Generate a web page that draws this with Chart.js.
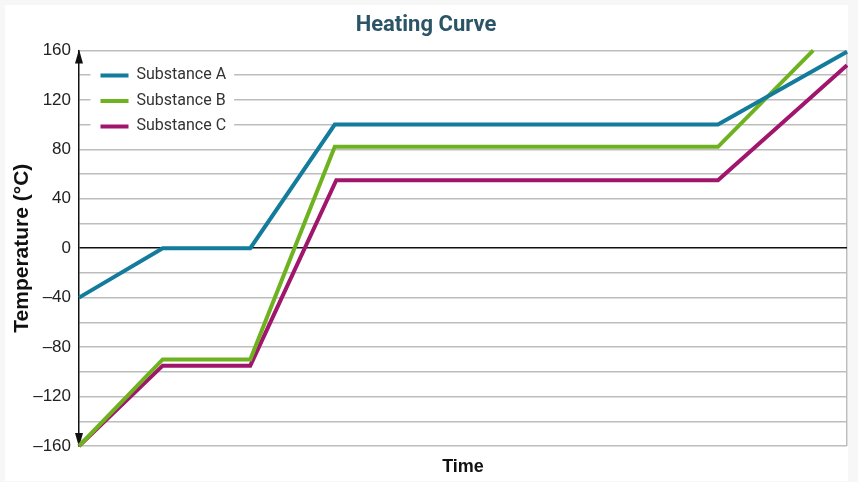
<!DOCTYPE html>
<html>
<head>
<meta charset="utf-8">
<script src="https://cdn.jsdelivr.net/npm/chart.js@4"></script>
<style>
  html, body { margin: 0; padding: 0; background: #f7f7f7; }
  #card { position: absolute; left: 5px; top: 5px; width: 843px; height: 476px; background: #fff; }
</style>
</head>
<body>
<div id="card"><canvas id="chart" width="843" height="476"></canvas></div>
<script>
// time positions (arbitrary units 0..100) and temperatures
const timeA = [0, 10.9, 22.3, 33.3, 83.2, 100];
const tempA = [-40, 0, 0, 100, 100, 159];
const timeB = [0, 10.9, 22.3, 33.3, 83.2, 95.6];
const tempB = [-160, -90, -90, 82, 82, 160];
const timeC = [0, 10.9, 22.3, 33.5, 83.2, 100];
const tempC = [-160, -95, -95, 55, 55, 148];

const seriesNames = ['Substance A', 'Substance B', 'Substance C'];
const seriesColors = ['#137b9b', '#6fb21f', '#a0166c'];

const yMin = -160;
const yMax = 160;
const yStep = 20;
const labelEvery = 40;

const condensed = 'Roboto, "Liberation Sans", sans-serif';
const regular = '"Liberation Sans", Arial, sans-serif';

function toPoints(xs, ys) {
    return xs.map((x, i) => ({ x: x, y: ys[i] }));
}

function makeSet(i, xs, ys) {
    return {
        label: seriesNames[i],
        data: toPoints(xs, ys),
        borderColor: seriesColors[i],
        backgroundColor: seriesColors[i],
        borderWidth: 4,
        pointRadius: 0,
        tension: 0,
        clip: false
    };
}

// black y axis arrows at both ends
const axisArrows = {
    id: 'axisArrows',
    beforeDatasetsDraw(chart) {
        const ctx = chart.ctx;
        const y = chart.scales.y;
        const x0 = chart.chartArea.left;
        const top = y.getPixelForValue(yMax);
        const bottom = y.getPixelForValue(yMin);
        ctx.save();
        ctx.fillStyle = '#111';
        ctx.beginPath();
        ctx.moveTo(x0, top - 1);
        ctx.lineTo(x0 - 4, top + 13);
        ctx.lineTo(x0 + 4, top + 13);
        ctx.closePath();
        ctx.fill();
        ctx.beginPath();
        ctx.moveTo(x0, bottom + 1);
        ctx.lineTo(x0 - 4, bottom - 13);
        ctx.lineTo(x0 + 4, bottom - 13);
        ctx.closePath();
        ctx.fill();
        ctx.restore();
    }
};

// legend sits inside the plot, nudged and backed with white so gridlines break behind it
const legendBox = {
    id: 'legendBox',
    afterLayout(chart) {
        chart.legend.left = chart.chartArea.left + 12;
        chart.legend.top = chart.chartArea.top + 7.5;
    },
    afterDatasetsDraw(chart) {
        const boxes = chart.legend.legendHitBoxes;
        if (!boxes || !boxes.length) return;
        const ctx = chart.ctx;
        const l = Math.min(...boxes.map(b => b.left)) - 10;
        const r = Math.max(...boxes.map(b => b.left + b.width)) + 8;
        const t = boxes[0].top - 3;
        const b = boxes[boxes.length - 1].top + boxes[boxes.length - 1].height + 3;
        ctx.save();
        ctx.fillStyle = '#fff';
        ctx.fillRect(l, t, r - l, b - t);
        ctx.restore();
        chart.legend.draw();
    }
};

const ctx = document.getElementById('chart').getContext('2d');
new Chart(ctx, {
    type: 'line',
    data: {
        datasets: [
            makeSet(0, timeA, tempA),
            makeSet(1, timeB, tempB),
            makeSet(2, timeC, tempC)
        ]
    },
    options: {
        responsive: false,
        animation: false,
        layout: { padding: { left: 0, right: 1, top: 0, bottom: 0 } },
        plugins: {
            tooltip: { enabled: false },
            title: {
                display: true,
                text: 'Heating Curve',
                color: '#2b5567',
                font: { family: condensed, size: 22, weight: 'bold', lineHeight: 1.2 },
                padding: { top: 7, bottom: 12 }
            },
            legend: {
                position: 'chartArea',
                align: 'start',
                labels: {
                    boxWidth: 28,
                    boxHeight: 4,
                    padding: 9.5,
                    color: '#333',
                    font: { family: condensed, size: 16 },
                    generateLabels: chart => chart.data.datasets.map((ds, i) => ({
                        text: ds.label,
                        fillStyle: ds.borderColor,
                        strokeStyle: ds.borderColor,
                        lineWidth: 0,
                        hidden: false,
                        datasetIndex: i,
                        fontColor: '#333'
                    }))
                }
            }
        },
        scales: {
            x: {
                type: 'linear',
                min: 0,
                max: 100,
                afterFit: s => { s.height = 35; },
                ticks: { display: false, stepSize: 100 },
                grid: {
                    drawTicks: false,
                    lineWidth: 1.5,
                    color: c => c.tick && c.tick.value === 100 ? '#bdbdbd' : 'rgba(0,0,0,0)'
                },
                border: { display: false },
                title: {
                    display: true,
                    text: 'Time',
                    color: '#111',
                    font: { family: regular, size: 18, weight: 'bold', lineHeight: 1.2 },
                    padding: { top: 0, bottom: 3 }
                }
            },
            y: {
                min: yMin,
                max: yMax,
                afterFit: s => { s.width = 74; },
                ticks: {
                    stepSize: yStep,
                    autoSkip: false,
                    padding: 8,
                    color: '#222',
                    font: { family: regular, size: 17 },
                    callback: v => v % labelEvery === 0 ? String(v).replace('-', '\u2013') : ''
                },
                grid: {
                    drawTicks: false,
                    lineWidth: 1.5,
                    color: c => c.tick && c.tick.value === 0 ? '#111' : '#bdbdbd'
                },
                border: { display: true, color: '#111', width: 1.5 },
                title: {
                    display: true,
                    text: 'Temperature (°C)',
                    color: '#111',
                    font: { family: regular, size: 21, weight: 'bold', lineHeight: 1.2 },
                    padding: { top: 5, bottom: 0 }
                }
            }
        }
    },
    plugins: [axisArrows, legendBox]
});
</script>
</body>
</html>
